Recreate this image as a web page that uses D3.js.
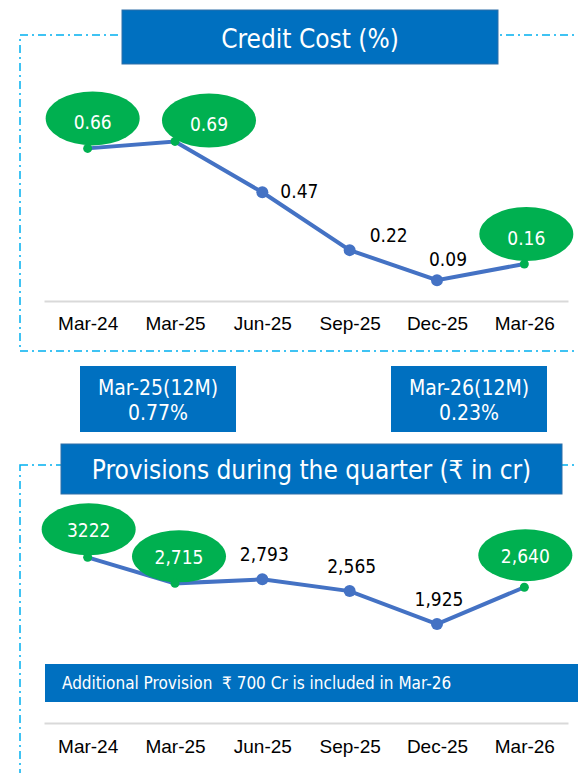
<!DOCTYPE html>
<html>
<head>
<meta charset="utf-8">
<script src="https://cdn.jsdelivr.net/npm/d3@7"></script>
<style>
  body { margin: 0; background: #fff; }
  svg { display: block; font-family: "DejaVu Sans Condensed", "DejaVu Sans", sans-serif; }
  .axis text { font-size: 19px; fill: #000; }
  .axis path { stroke: #D9D9D9; stroke-width: 2; }
</style>
</head>
<body>
<svg id="chart" width="578" height="773"></svg>
<script>
var quarters = ["Mar-24", "Mar-25", "Jun-25", "Sep-25", "Dec-25", "Mar-26"];
var creditCost = [0.66, 0.69, 0.47, 0.22, 0.09, 0.16];
var creditLabels = ["0.66", "0.69", "0.47", "0.22", "0.09", "0.16"];
var provisions = [3222, 2715, 2793, 2565, 1925, 2640];
var provisionLabels = ["3222", "2,715", "2,793", "2,565", "1,925", "2,640"];
var highlighted = [true, true, false, false, false, true];
var summaryBoxes = [["Mar-25(12M)", "0.77%"], ["Mar-26(12M)", "0.23%"]];
var noteText = "Additional Provision \u00A0\u20B9 700 Cr is included in Mar-26";

var blue = "#0070C0", lineBlue = "#4472C4", green = "#00B050", dashBlue = "#00B0F0";
var svg = d3.select("#chart");

var x = d3.scalePoint().domain(quarters).range([44, 568]).padding(0.5);

// dashed panels
function panel(y0, h) {
  svg.append("rect").attr("x", 20).attr("y", y0).attr("width", 620).attr("height", h)
    .attr("fill", "none").attr("stroke", dashBlue).attr("stroke-width", 1.5)
    .attr("stroke-dasharray", "8,4,2,4");
}
panel(35, 316);
panel(465, 400);

function titleBox(x0, y0, w, h, txt, size, base) {
  svg.append("rect").attr("x", x0).attr("y", y0).attr("width", w).attr("height", h)
    .attr("fill", blue).attr("stroke", "#2E6FA8").attr("stroke-width", 1);
  svg.append("text").attr("x", x0 + w / 2).attr("y", base).attr("text-anchor", "middle")
    .attr("font-size", size).attr("fill", "#fff").text(txt);
}

// ---- Credit cost chart
titleBox(122, 10, 376, 54, "Credit Cost (%)", 26, 48);

var y1 = d3.scaleLinear().domain([0, 0.8]).range([301, 116]);

svg.append("g").attr("class", "axis").attr("transform", "translate(0,301)")
  .call(d3.axisBottom(x).tickSize(0).tickPadding(16).tickSizeOuter(0));

var line1 = d3.line().x(function(d, i) { return x(quarters[i]); }).y(function(d) { return y1(d); });
svg.append("path").attr("d", line1(creditCost)).attr("fill", "none")
  .attr("stroke", lineBlue).attr("stroke-width", 4);

// label offsets (layout only)
var ccBubble = [[5, -30], [34, -21], null, null, null, [2, -30]];
var ccText = [null, null, [18, 6, "start"], [39, -8, "middle"], [11, -14, "middle"], null];

creditCost.forEach(function(v, i) {
  var px = x(quarters[i]), py = y1(v);
  if (highlighted[i]) {
    svg.append("ellipse").attr("cx", px + ccBubble[i][0]).attr("cy", py + ccBubble[i][1])
      .attr("rx", 47).attr("ry", 27).attr("fill", green);
    svg.append("text").attr("x", px + ccBubble[i][0]).attr("y", py + ccBubble[i][1] + 11)
      .attr("text-anchor", "middle").attr("font-size", 19).attr("fill", "#fff").text(creditLabels[i]);
    svg.append("circle").attr("cx", px).attr("cy", py).attr("r", 4.5).attr("fill", green);
  } else {
    svg.append("circle").attr("cx", px).attr("cy", py).attr("r", 6).attr("fill", lineBlue);
    svg.append("text").attr("x", px + ccText[i][0]).attr("y", py + ccText[i][1])
      .attr("text-anchor", ccText[i][2]).attr("font-size", 19).attr("fill", "#000").text(creditLabels[i]);
  }
});

// summary boxes
var boxX = [80, 391];
summaryBoxes.forEach(function(b, i) {
  svg.append("rect").attr("x", boxX[i]).attr("y", 366).attr("width", 156).attr("height", 66).attr("fill", blue);
  svg.append("text").attr("x", boxX[i] + 78).attr("y", 395).attr("text-anchor", "middle")
    .attr("font-size", 21).attr("fill", "#fff").text(b[0]);
  svg.append("text").attr("x", boxX[i] + 78).attr("y", 420).attr("text-anchor", "middle")
    .attr("font-size", 21).attr("fill", "#fff").text(b[1]);
});

// ---- Provisions chart
titleBox(61, 444, 501, 50, "Provisions during the quarter (\u20B9 in cr)", 26, 479);

var y2 = d3.scaleLinear().domain([0, 3500]).range([723, 543]);

svg.append("g").attr("class", "axis").attr("transform", "translate(0,723)")
  .call(d3.axisBottom(x).tickSize(0).tickPadding(17).tickSizeOuter(0));

// note bar
svg.append("rect").attr("x", 45).attr("y", 664).attr("width", 540).attr("height", 38).attr("fill", blue);
svg.append("text").attr("x", 62).attr("y", 689).attr("font-size", 17).attr("fill", "#fff").text(noteText);

var line2 = d3.line().x(function(d, i) { return x(quarters[i]); }).y(function(d) { return y2(d); });
svg.append("path").attr("d", line2(provisions)).attr("fill", "none")
  .attr("stroke", lineBlue).attr("stroke-width", 4);

var pvBubble = [[1, -28], [4, -27], null, null, null, [1, -32]];
provisions.forEach(function(v, i) {
  var px = x(quarters[i]), py = y2(v);
  if (highlighted[i]) {
    svg.append("ellipse").attr("cx", px + pvBubble[i][0]).attr("cy", py + pvBubble[i][1])
      .attr("rx", 47).attr("ry", 26).attr("fill", green);
    svg.append("text").attr("x", px + pvBubble[i][0]).attr("y", py + pvBubble[i][1] + 8)
      .attr("text-anchor", "middle").attr("font-size", 19).attr("fill", "#fff").text(provisionLabels[i]);
    svg.append("circle").attr("cx", px).attr("cy", py).attr("r", 4.5).attr("fill", green);
  } else {
    svg.append("circle").attr("cx", px).attr("cy", py).attr("r", 6).attr("fill", lineBlue);
    svg.append("text").attr("x", px + 2).attr("y", py - 18)
      .attr("text-anchor", "middle").attr("font-size", 19).attr("fill", "#000").text(provisionLabels[i]);
  }
});
</script>
</body>
</html>
